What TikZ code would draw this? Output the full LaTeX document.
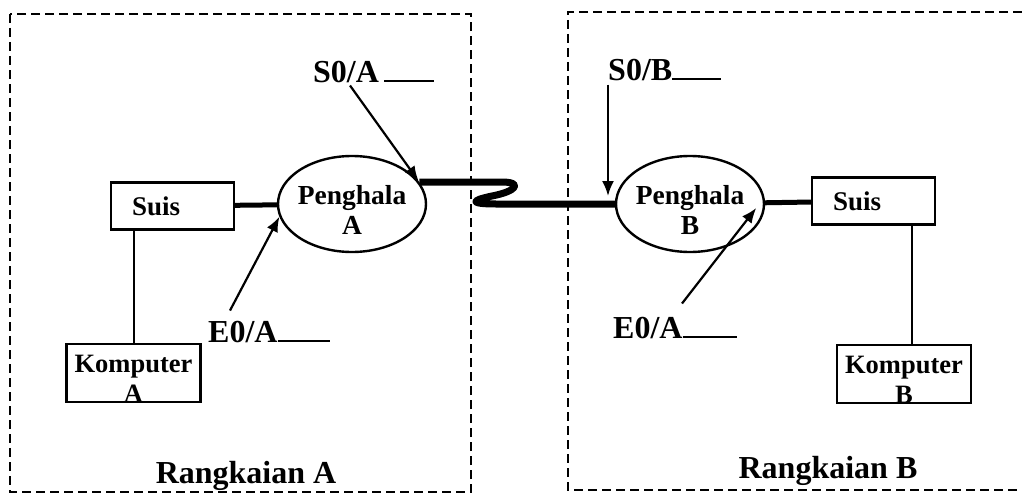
\documentclass[tikz,border=0pt]{standalone}
\usepackage{fontspec}
\setmainfont{Liberation Serif}
\usetikzlibrary{arrows.meta,shapes.geometric}
\begin{document}
\begin{tikzpicture}[x=1pt,y=-1pt,
  zone/.style={dash pattern=on 9pt off 5pt, line width=2.2pt},
  router/.style={ellipse, draw, line width=2.4pt, minimum width=148pt, minimum height=96pt, inner sep=0pt},
  rtext/.style={font=\fontsize{27.5}{30}\selectfont\bfseries, align=center, inner sep=0pt},
  switchbox/.style={rectangle, draw, line width=2.2pt, minimum height=47pt, text width=81pt, inner xsep=21pt, align=left, font=\fontsize{27}{30}\selectfont\bfseries},
  pcbox/.style={rectangle, draw, line width=2.2pt, minimum width=134pt, minimum height=58pt, inner sep=0pt},
  pctext/.style={font=\fontsize{26.5}{30}\selectfont\bfseries, align=center, inner sep=0pt},
  iflabel/.style={font=\fontsize{32}{34}\selectfont\bfseries, inner sep=0pt, anchor=base west},
  netlabel/.style={font=\fontsize{32}{34}\selectfont\bfseries, inner sep=0pt, anchor=base},
  pointer/.style={line width=2.2pt, -{Latex[length=15pt,width=12pt]}},
  link/.style={line width=7pt, line join=round},
  lan/.style={line width=5pt},
  drop/.style={line width=2pt}
]
\useasboundingbox (0,0) rectangle (1022,495);

% network zones
\draw[zone] (10,14) rectangle (471,492);
\draw[zone] (1022,12) -- (568,12) -- (568,490) -- (1022,490);

% routers
\node[router] (ra) at (352,204) {};
\node[rtext] (ratext) at ([yshift=-5.5pt]ra.center) {Penghala\\A};
\node[router] (rb) at (690,204) {};
\node[rtext] (rbtext) at ([yshift=-5.5pt]rb.center) {Penghala\\B};

% switches
\node[switchbox] (sa) at (172.5,206) {Suis};
\node[switchbox] (sb) at (873.5,201) {Suis};

% computers
\node[pcbox] (ka) at (133.5,373) {};
\node[pctext] (katext) at ([yshift=-5.5pt]ka.center) {Komputer\\A};
\node[pcbox] (kb) at (904,374) {};
\node[pctext] (kbtext) at ([yshift=-5.5pt]kb.center) {Komputer\\B};

% connections
\draw[lan] (sa) -- (ra);
\draw[lan] (rb) -- (sb);
\draw[drop] (ka.north) -- (ka.north |- sa.south);
\draw[drop] ([xshift=8pt]kb.north) -- ([xshift=8pt]kb.north |- sb.south);
\draw[link] (ra.18) -- (502,182) .. controls (522,182) and (518,191) .. (492,196)
  .. controls (468,201) and (472,204) .. (496,204) -- (rb.west);

% interface labels
\node[iflabel] (s0a) at (313,82) {S0/A\hspace{5pt}\rule{50pt}{1.6pt}};
\node[iflabel] (s0b) at (608,80) {S0/B\rule{49pt}{1.6pt}};
\node[iflabel] (e0a) at (208,342) {E0/A\rule{52pt}{1.6pt}};
\node[iflabel] (e0b) at (613,338) {E0/A\rule{54pt}{1.6pt}};

% pointers
\draw[pointer] ([xshift=37pt,yshift=-3pt]s0a.south west) -- (ra.19);
\draw[pointer] ([yshift=-4pt]s0b.south west) -- ([yshift=8pt]s0b.south west |- rb.west);
\draw[pointer] ([xshift=22pt,yshift=10pt]e0a.north west) -- (ra.190);
\draw[pointer] ([xshift=69pt,yshift=13pt]e0b.north west) -- ([xshift=-9pt,yshift=-4pt]rb.east);

% network names
\node[netlabel] (neta) at (246,483) {Rangkaian A};
\node[netlabel] (netb) at (828,478) {Rangkaian B};
\end{tikzpicture}
\end{document}
